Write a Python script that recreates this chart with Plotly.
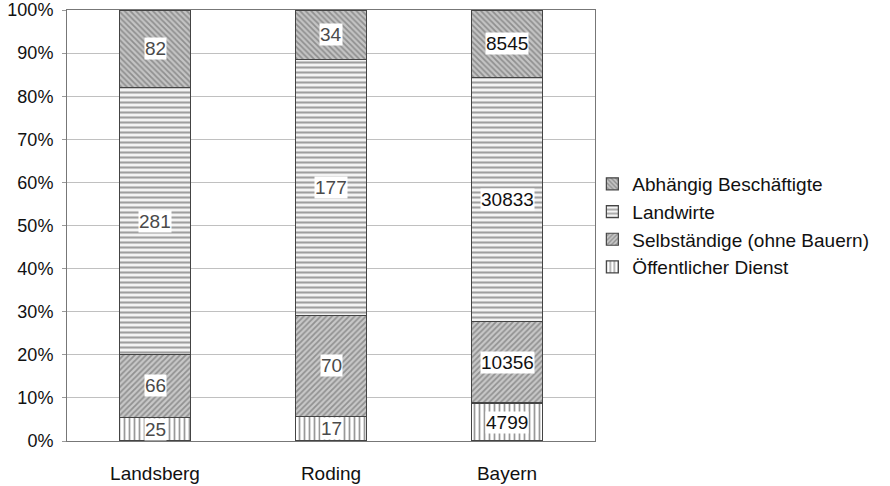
import plotly.graph_objects as go

categories = ["Landsberg", "Roding", "Bayern"]
oeffentlicher_dienst = [25, 17, 4799]
selbstaendige = [66, 70, 10356]
landwirte = [281, 177, 30833]
abhaengig = [82, 34, 8545]
tick_vals = [0, 10, 20, 30, 40, 50, 60, 70, 80, 90, 100]
tick_text = [f"{v}%" for v in tick_vals]

series = [
    ("Öffentlicher Dienst", oeffentlicher_dienst, dict(shape="|", size=5, solidity=0.35, fgcolor="#333", bgcolor="#ffffff")),
    ("Selbständige (ohne Bauern)", selbstaendige, dict(shape="/", size=4, solidity=0.45, fgcolor="#5a5a5a", bgcolor="#c8c8c8")),
    ("Landwirte", landwirte, dict(shape="-", size=5, solidity=0.42, fgcolor="#4a4a4a", bgcolor="#f4f4f4")),
    ("Abhängig Beschäftigte", abhaengig, dict(shape="\\", size=4, solidity=0.45, fgcolor="#5a5a5a", bgcolor="#c4c4c4")),
]

FONT = "Liberation Sans, Arial, sans-serif"

fig = go.Figure()
for name, vals, pat in series:
    fig.add_trace(go.Bar(
        x=categories, y=vals, name=name,
        marker=dict(color=pat["bgcolor"], pattern=pat, line=dict(color="#444", width=1.2)),
        width=0.4, hoverinfo="skip",
    ))

# labels at segment midpoints (percent)
totals = [sum(s[1][i] for s in series) for i in range(len(categories))]
label_colors = ["#4a4a4a", "#4a4a4a", "#111111"]
annotations = []
for i, cat in enumerate(categories):
    cum = 0
    for name, vals, pat in series:
        v = vals[i]
        mid = (cum + v / 2) / totals[i] * 100
        cum += v
        annotations.append(dict(
            x=cat, y=mid, xref="x", yref="y", text=str(v), showarrow=False,
            font=dict(family=FONT, size=19, color=label_colors[i]),
            bgcolor="#ffffff", borderpad=0,
        ))

fig.update_layout(
    barmode="stack", barnorm="percent",
    width=890, height=486,
    margin=dict(l=67, r=295, t=10, b=45),
    paper_bgcolor="white", plot_bgcolor="white",
    font=dict(family=FONT, size=18, color="#111"),
    showlegend=True,
    legend=dict(x=0.995, y=0.5, xanchor="left", yanchor="middle", traceorder="reversed",
                bgcolor="rgba(0,0,0,0)",
                font=dict(size=19, color="#111"), itemwidth=30, tracegroupgap=0),
    annotations=annotations,
)
fig.update_xaxes(showline=True, linecolor="#777", mirror=True, ticks="", automargin=False,
                 ticklabelstandoff=15, tickfont=dict(size=19, color="#111"))
fig.update_yaxes(range=[0, 100], tickvals=tick_vals, ticktext=tick_text, showgrid=True,
                 gridcolor="#c0c0c0", showline=True, linecolor="#777", mirror=True, automargin=False,
                 ticks="outside", ticklen=4, tickcolor="#999", ticklabelstandoff=5,
                 ticklabeloverflow="allow", tickfont=dict(size=18, color="#111"), zeroline=False)

fig.write_html("out.html", config={"displayModeBar": False},
               post_script="document.body.style.margin='0';")
